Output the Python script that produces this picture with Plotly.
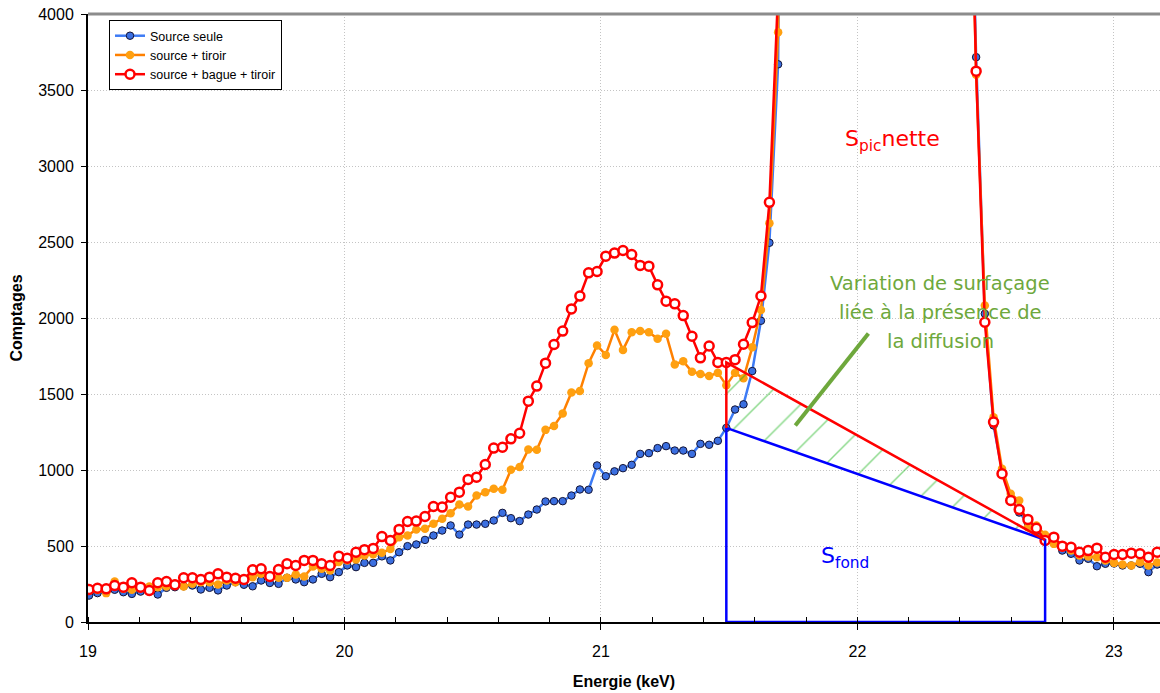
import plotly.graph_objects as go

# ---------------- data ----------------
energies = [
    19.004, 19.037, 19.071, 19.104, 19.138, 19.171, 19.205, 19.239, 19.272, 19.306,
    19.339, 19.373, 19.407, 19.440, 19.474, 19.507, 19.541, 19.575, 19.608, 19.642,
    19.675, 19.709, 19.743, 19.776, 19.810, 19.843, 19.877, 19.911, 19.944, 19.978,
    20.011, 20.045, 20.078, 20.112, 20.146, 20.179, 20.213, 20.246, 20.280, 20.314,
    20.347, 20.381, 20.414, 20.448, 20.482, 20.515, 20.549, 20.582, 20.616, 20.649,
    20.683, 20.717, 20.750, 20.784, 20.817, 20.851, 20.885, 20.918, 20.952, 20.985,
    21.019, 21.053, 21.086, 21.120, 21.153, 21.187, 21.221, 21.254, 21.288, 21.321,
    21.355, 21.388, 21.422, 21.456, 21.489, 21.523, 21.556, 21.590, 21.624, 21.657,
    21.691, 21.724, 21.758, 21.792, 21.825, 21.859, 21.892, 21.926, 21.959, 21.993,
    22.027, 22.060, 22.094, 22.127, 22.161, 22.195, 22.228, 22.262, 22.295, 22.329,
    22.363, 22.396, 22.430, 22.463, 22.497, 22.531, 22.564, 22.598, 22.631, 22.665,
    22.698, 22.732, 22.766, 22.799, 22.833, 22.866, 22.900, 22.934, 22.967, 23.001,
    23.034, 23.068, 23.102, 23.135, 23.169,
]

source_seule = [
    174, 190, 200, 212, 196, 185, 200, 200, 181, 225,
    229, 235, 240, 214, 225, 208, 240, 262, 245, 235,
    273, 257, 251, 291, 280, 262, 280, 317, 295, 328,
    372, 361, 389, 389, 432, 405, 459, 499, 510, 540,
    569, 602, 635, 575, 641, 641, 646, 668, 718, 683,
    664, 707, 740, 793, 795, 795, 832, 872, 870, 1030,
    959, 991, 1012, 1034, 1106, 1111, 1144, 1157, 1128, 1128,
    1106, 1172, 1166, 1192, 1277, 1398, 1432, 1651, 1982, 2495,
    3669, 8400, 15000, 25000, 36000, 46000, 53000, 56000, 54000, 48000,
    40000, 32000, 25000, 19500, 15500, 12500, 10500, 9200, 8300, 7600,
    7000, 6500, 6000, 3716, 2028, 1293, 997, 820, 720, 650,
    600, 540, 520, 470, 449, 405, 416, 367, 383, 385,
    372, 372, 383, 328, 378,
]

source_tiroir = [
    205, 210, 190, 266, 218, 212, 222, 233, 229, 233,
    251, 233, 251, 262, 262, 246, 273, 262, 273, 295,
    317, 299, 291, 291, 313, 299, 365, 350, 339, 394,
    405, 411, 438, 446, 455, 481, 558, 569, 609, 613,
    646, 679, 716, 773, 760, 832, 854, 876, 870, 1001,
    1019, 1135, 1133, 1264, 1290, 1372, 1510, 1519, 1703, 1819,
    1757, 1922, 1790, 1907, 1914, 1907, 1863, 1896, 1694, 1716,
    1646, 1632, 1619, 1639, 1558, 1639, 1603, 1807, 2053, 2623,
    3880, 8700, 15400, 25500, 36500, 46600, 53500, 56600, 54500, 48500,
    40500, 32500, 25400, 19800, 15700, 12700, 10600, 9300, 8350, 7600,
    6950, 6400, 5900, 3600, 2082, 1347, 1008, 843, 799, 624,
    635, 574, 514, 492, 470, 437, 431, 426, 405, 389,
    378, 372, 393, 372, 391,
]

source_bague_tiroir = [
    214, 222, 218, 240, 229, 258, 229, 207, 258, 266,
    245, 291, 291, 280, 295, 317, 295, 288, 280, 343,
    350, 299, 345, 383, 372, 405, 405, 383, 372, 433,
    420, 459, 476, 484, 562, 536, 609, 661, 664, 694,
    760, 756, 821, 854, 938, 953, 1036, 1144, 1150, 1205,
    1242, 1453, 1552, 1703, 1826, 1914, 2060, 2144, 2297, 2306,
    2407, 2427, 2444, 2418, 2346, 2341, 2218, 2111, 2093, 2016,
    1880, 1738, 1816, 1708, 1708, 1726, 1827, 1970, 2145, 2761,
    4150, 9200, 15800, 26000, 37000, 47000, 54000, 57000, 55000, 49000,
    41000, 33000, 25800, 20000, 16000, 12800, 10700, 9400, 8400, 7650,
    6950, 6400, 5850, 3624, 1972, 1315, 975, 799, 740, 675,
    617, 536, 558, 499, 492, 459, 470, 486, 426, 444,
    444, 453, 449, 426, 459,
]

series_names = ["Source seule", "source + tiroir", "source + bague + tiroir"]

# background window (channel indices) used for the net-peak construction
roi_start = 74
roi_end = 111

# ---------------- figure ----------------
FONT = "Liberation Sans, Arial, sans-serif"
fig = go.Figure()

fig.add_trace(go.Scatter(
    x=energies, y=source_seule, name=series_names[0], mode="lines+markers",
    line=dict(color="#3d7bf5", width=2.5),
    marker=dict(size=7.5, color="#3b6fe0", line=dict(color="#141436", width=1)),
))
fig.add_trace(go.Scatter(
    x=energies, y=source_tiroir, name=series_names[1], mode="lines+markers",
    line=dict(color="#ff8000", width=2.5),
    marker=dict(size=8.5, color="#ffa010", line=dict(width=0)),
))
fig.add_trace(go.Scatter(
    x=energies, y=source_bague_tiroir, name=series_names[2], mode="lines+markers",
    line=dict(color="#ff0000", width=2.5),
    marker=dict(size=9, color="white", line=dict(color="#ff0000", width=2.5)),
))

x_l = energies[roi_start]
x_r = energies[roi_end]
y_red = source_bague_tiroir[roi_start]
y_blue = source_seule[roi_start]
y_end = source_seule[roi_end]

# hatched area between the two background lines
fig.add_trace(go.Scatter(
    x=[x_l, x_r, x_l, x_l], y=[y_red, y_end, y_blue, y_red],
    mode="lines", fill="toself", line=dict(width=0),
    fillcolor="rgba(0,0,0,0)",
    fillpattern=dict(shape="/", fgcolor="#18b418", bgcolor="rgba(0,0,0,0)",
                     size=30, solidity=0.05),
    showlegend=False, hoverinfo="skip",
))
# blue background trapezoid (S fond)
fig.add_trace(go.Scatter(
    x=[x_l, x_l, x_r, x_r, x_l], y=[y_blue, 0, 0, y_end, y_blue],
    mode="lines", line=dict(color="#0000ff", width=2.5),
    showlegend=False, hoverinfo="skip",
))
# red background line (with scatter)
fig.add_trace(go.Scatter(
    x=[x_l, x_l, x_r], y=[y_blue, y_red, y_end],
    mode="lines", line=dict(color="#ff0000", width=2.5),
    showlegend=False, hoverinfo="skip",
))

GREEN = "#6ea83c"
fig.add_shape(type="line", x0=21.758, y0=1293, x1=22.043, y1=1898,
              line=dict(color=GREEN, width=4))
# top frame line
fig.add_shape(type="line", xref="paper", yref="paper", x0=0, x1=1, y0=1, y1=1,
              line=dict(color="#8c8c8c", width=3))

TXT = "DejaVu Sans, Verdana, sans-serif"
for txt, yv in [("Variation de surfaçage", 2226), ("liée à la présence de", 2035),
                ("la diffusion", 1845)]:
    fig.add_annotation(x=22.323, y=yv, text=txt, showarrow=False,
                       font=dict(family=TXT, size=19.5, color=GREEN))
fig.add_annotation(x=22.135, y=3170, text="S<sub>pic</sub>nette", showarrow=False,
                   font=dict(family=TXT, size=22, color="#ff0000"))
fig.add_annotation(x=21.95, y=425, text="S<sub>fond</sub>", showarrow=False,
                   font=dict(family=TXT, size=22, color="#0000ff"))

fig.update_layout(
    width=1160, height=693,
    margin=dict(l=88, r=0, t=14, b=71, autoexpand=False),
    paper_bgcolor="white", plot_bgcolor="white",
    font=dict(family=FONT, size=16, color="black"),
    showlegend=True,
    legend=dict(x=0.0196, y=0.99, xanchor="left", yanchor="top",
                bgcolor="white", bordercolor="black", borderwidth=1,
                font=dict(family=FONT, size=12.5, color="black"),
                itemwidth=30, tracegroupgap=0),
)
fig.update_xaxes(
    range=[19, 23.18], dtick=1, tick0=19, automargin=False,
    showline=True, linecolor="black", linewidth=2,
    ticks="outside", ticklen=6, tickcolor="black", tickwidth=1,
    ticklabelstandoff=8,
    minor=dict(dtick=0.2, ticks="inside", ticklen=5, tickcolor="black", showgrid=False),
    showgrid=True, gridcolor="#c4c4c4", griddash="1px,2px", gridwidth=1,
    zeroline=False,
    title=dict(text="<b>Energie (keV)</b>", font=dict(family=FONT, size=16), standoff=17),
    tickfont=dict(family=FONT, size=16),
)
fig.update_yaxes(
    range=[0, 4000], dtick=500, tick0=0, automargin=False,
    showline=True, linecolor="black", linewidth=2,
    ticks="outside", ticklen=5, tickcolor="black", tickwidth=1,
    ticklabelstandoff=4,
    showgrid=True, gridcolor="#c4c4c4", griddash="1px,2px", gridwidth=1,
    zeroline=False,
    title=dict(text="<b>Comptages</b>", font=dict(family=FONT, size=16), standoff=12),
    tickfont=dict(family=FONT, size=16),
)

fig.write_html("out.html", config={"displayModeBar": False},
               post_script="document.body.style.margin='0px';")
